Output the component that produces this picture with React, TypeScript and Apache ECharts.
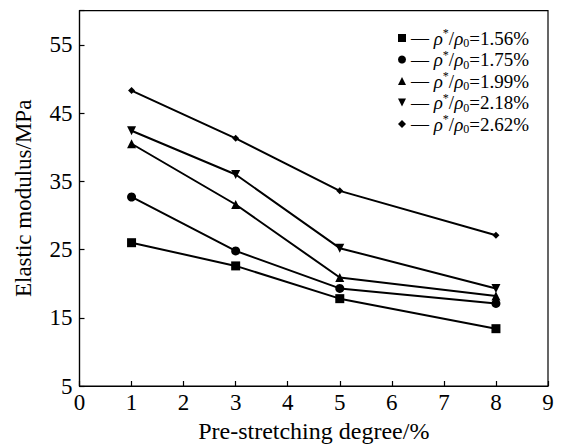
import React, { useEffect, useRef } from 'react';
import * as echarts from 'echarts';

const xValues = [1, 3, 5, 8];
const ratios = ['1.56', '1.75', '1.99', '2.18', '2.62'];
const s156 = [26.0, 22.6, 17.8, 13.4];
const s175 = [32.7, 24.8, 19.3, 17.1];
const s199 = [40.5, 31.6, 20.9, 18.2];
const s218 = [42.4, 36.0, 25.2, 19.3];
const s262 = [48.3, 41.3, 33.6, 27.1];
const seriesValues = [s156, s175, s199, s218, s262];
const symbols = ['rect', 'circle', 'triangle', 'path://M0,0L10,0L5,10Z', 'diamond'];
const symbolSizes = [9, 9, 9, 9, 7];
const xTitle = 'Pre-stretching degree/%';
const yTitle = 'Elastic modulus/MPa';

const FONT = 'Liberation Serif';

export default function App() {
  const ref = useRef<HTMLDivElement>(null);
  useEffect(() => {
    if (!ref.current) return;
    const chart = echarts.init(ref.current, undefined, { renderer: 'svg' });
    const names = ratios.map((r) => 'ρ*/ρ0=' + r + '%');
    chart.setOption({
      animation: false,
      backgroundColor: '#fff',
      grid: { left: 79.5, right: 18, top: 10.7, bottom: 60, show: true, borderColor: '#000', borderWidth: 1.2 },
      legend: {
        orient: 'vertical',
        left: 393,
        top: 22,
        itemWidth: 8,
        itemHeight: 8,
        itemGap: -0.5,
        data: names.map((n, i) => ({ name: n, icon: symbols[i] })),
        formatter: (name: string) => {
          const r = name.split('=')[1];
          return '{d|—} {i|ρ}{sup|*}{t|/}{i|ρ}{sub|0}{t|=' + r + '}';
        },
        textStyle: {
          fontFamily: FONT,
          fontSize: 19,
          color: '#000',
          rich: {
            d: { fontFamily: FONT, fontSize: 18, color: '#000', lineHeight: 22 },
            t: { fontFamily: FONT, fontSize: 19, color: '#000', lineHeight: 22 },
            i: { fontFamily: FONT, fontSize: 19, fontStyle: 'italic', color: '#000', lineHeight: 22 },
            sup: { fontFamily: FONT, fontSize: 12, color: '#000', lineHeight: 14, verticalAlign: 'top' },
            sub: { fontFamily: FONT, fontSize: 12, color: '#000', lineHeight: 8, verticalAlign: 'bottom' },
          },
        },
      },
      xAxis: {
        type: 'value',
        min: 0,
        max: 9,
        interval: 1,
        name: xTitle,
        nameLocation: 'middle',
        nameGap: 33,
        nameTextStyle: { fontFamily: FONT, fontSize: 24, color: '#000' },
        axisLine: { lineStyle: { color: '#000', width: 1.2 } },
        axisTick: { inside: true, length: 5, lineStyle: { color: '#000', width: 1.2 } },
        axisLabel: { fontFamily: FONT, fontSize: 23, color: '#000', margin: 5 },
        splitLine: { show: false },
      },
      yAxis: {
        type: 'value',
        min: 5,
        max: 60,
        interval: 10,
        name: yTitle,
        nameLocation: 'middle',
        nameGap: 45,
        nameTextStyle: { fontFamily: FONT, fontSize: 23, color: '#000' },
        axisLine: { show: true, lineStyle: { color: '#000', width: 1.2 } },
        axisTick: { show: true, inside: true, length: 5, lineStyle: { color: '#000', width: 1.2 } },
        axisLabel: {
          fontFamily: FONT,
          fontSize: 23,
          color: '#000',
          margin: 7,
          formatter: (v: number) => (v === 60 ? '' : String(v)),
        },
        splitLine: { show: false },
      },
      series: seriesValues.map((vals, i) => ({
        name: names[i],
        type: 'line',
        data: vals.map((v, j) => [xValues[j], v]),
        symbol: symbols[i],
        symbolSize: symbolSizes[i],
        showAllSymbol: true,
        lineStyle: { color: '#000', width: 2 },
        itemStyle: { color: '#000' },
      })),
    });
    return () => chart.dispose();
  }, []);
  return <div ref={ref} style={{ width: 566, height: 448, position: 'absolute', left: 0, top: 0 }} />;
}
